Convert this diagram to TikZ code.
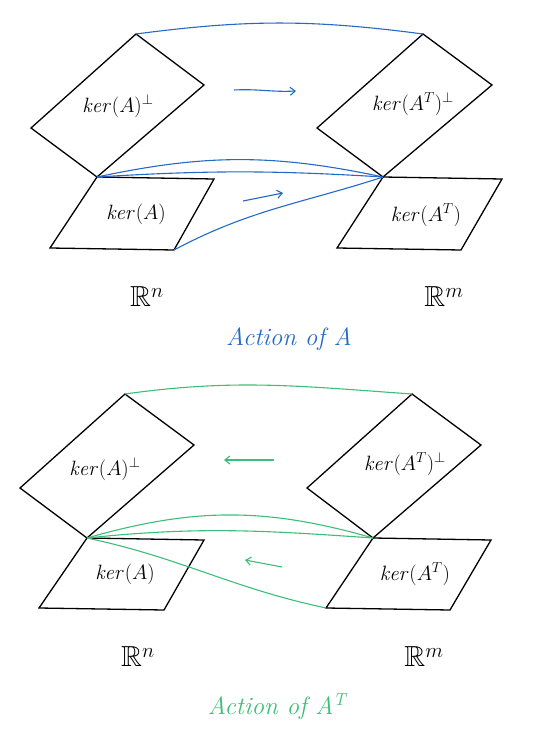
\documentclass[tikz,border=0pt]{standalone}
\usepackage{amssymb}
\usetikzlibrary{arrows.meta}
\definecolor{penblue}{RGB}{35,105,200}
\definecolor{pengreen}{RGB}{60,190,120}
\tikzset{
  plane/.style={draw=black,line width=1.3pt,line join=miter},
  lbl/.style={font=\fontsize{21}{23}\selectfont},
  rlbl/.style={font=\fontsize{29}{31}\selectfont},
  title/.style={font=\fontsize{25}{27}\selectfont\itshape},
  bconn/.style={draw=penblue,line width=1.1pt},
  gconn/.style={draw=pengreen,line width=1.1pt},
  barrow/.style={draw=penblue,line width=1.1pt,-{Straight Barb[length=5pt,width=8pt]}},
  garrow/.style={draw=pengreen,line width=1.1pt,-{Straight Barb[length=5pt,width=8pt]}}
}
\begin{document}
\begin{tikzpicture}[x=1pt,y=1pt]
\useasboundingbox (0,0) rectangle (540,-743);
% ---------- top panel ----------
\coordinate (t1) at (136,-34);  \coordinate (r1) at (204,-85);
\coordinate (b1) at (97,-177);  \coordinate (l1) at (31,-128);
\coordinate (q1r) at (214,-179); \coordinate (q1br) at (174,-250); \coordinate (q1bl) at (50,-248);
\coordinate (t2) at (423,-34);  \coordinate (r2) at (492,-85);
\coordinate (b2) at (383,-177); \coordinate (l2) at (317,-128);
\coordinate (q2r) at (502,-179); \coordinate (q2br) at (461,-250); \coordinate (q2bl) at (337,-248);
\draw[plane] (t1)--(r1)--(b1)--(l1)--cycle;
\draw[plane] (b1)--(q1r)--(q1br)--(q1bl)--cycle;
\draw[plane] (t2)--(r2)--(b2)--(l2)--cycle;
\draw[plane] (b2)--(q2r)--(q2br)--(q2bl)--cycle;
\node[lbl] (kAp) at (118,-106) {$\mathit{ker}(A)^{\perp}$};
\node[lbl] (kATp) at (413,-104) {$\mathit{ker}(A^{T})^{\perp}$};
\node[lbl] (kA) at (136,-214) {$\mathit{ker}(A)$};
\node[lbl] (kAT) at (426,-215) {$\mathit{ker}(A^{T})$};
\draw[bconn] (t1) to[out=7.5,in=172.5] (t2);
\draw[bconn] (b1) to[out=12,in=168] (b2);
\draw[bconn] (b1) to[out=3.5,in=176.5] (b2);
\draw[bconn] (q1br) to[out=28,in=198] (b2);
\coordinate (a1s) at (234,-90); \coordinate (a1e) at (296,-91);
\coordinate (a2s) at (243,-201); \coordinate (a2e) at (283,-193);
\draw[barrow] (a1s) to[out=3,in=183] (a1e);
\draw[barrow] (a2s) -- (a2e);
\node[rlbl] (Rn1) at (147,-297) {$\mathbb{R}^{n}$};
\node[rlbl] (Rm1) at (444,-297) {$\mathbb{R}^{m}$};
\node[title,text=penblue] (act1) at (289,-339) {Action of A};
% ---------- bottom panel ----------
\coordinate (t3) at (125,-394);  \coordinate (r3) at (194,-445);
\coordinate (b3) at (87,-538);   \coordinate (l3) at (20,-488);
\coordinate (q3r) at (204,-540); \coordinate (q3br) at (164,-610); \coordinate (q3bl) at (39,-608);
\coordinate (t4) at (412,-394);  \coordinate (r4) at (481,-445);
\coordinate (b4) at (373,-538);  \coordinate (l4) at (307,-488);
\coordinate (q4r) at (491,-540); \coordinate (q4br) at (450,-610); \coordinate (q4bl) at (326,-608);
\draw[plane] (t3)--(r3)--(b3)--(l3)--cycle;
\draw[plane] (b3)--(q3r)--(q3br)--(q3bl)--cycle;
\draw[plane] (t4)--(r4)--(b4)--(l4)--cycle;
\draw[plane] (b4)--(q4r)--(q4br)--(q4bl)--cycle;
\node[lbl] (kAp2) at (105,-469) {$\mathit{ker}(A)^{\perp}$};
\node[lbl] (kATp2) at (405,-464) {$\mathit{ker}(A^{T})^{\perp}$};
\node[lbl] (kA2) at (125,-574) {$\mathit{ker}(A)$};
\node[lbl] (kAT2) at (415,-574) {$\mathit{ker}(A^{T})$};
\draw[gconn] (t3) to[out=8,in=176] (t4);
\draw[gconn] (b3) to[out=16,in=164] (b4);
\draw[gconn] (b3) to[out=6,in=176] (b4);
\draw[gconn] (b3) to[out=-12,in=168] (q4bl);
\coordinate (a3s) at (274,-460); \coordinate (a3e) at (224,-460);
\coordinate (a4s) at (282,-567); \coordinate (a4e) at (245,-560);
\draw[garrow] (a3s) -- (a3e);
\draw[garrow] (a4s) -- (a4e);
\node[rlbl] (Rn2) at (138,-657) {$\mathbb{R}^{n}$};
\node[rlbl] (Rm2) at (424,-657) {$\mathbb{R}^{m}$};
\node[title,text=pengreen] (act2) at (277,-707) {Action of A\textsuperscript{T}};
\end{tikzpicture}
\end{document}
